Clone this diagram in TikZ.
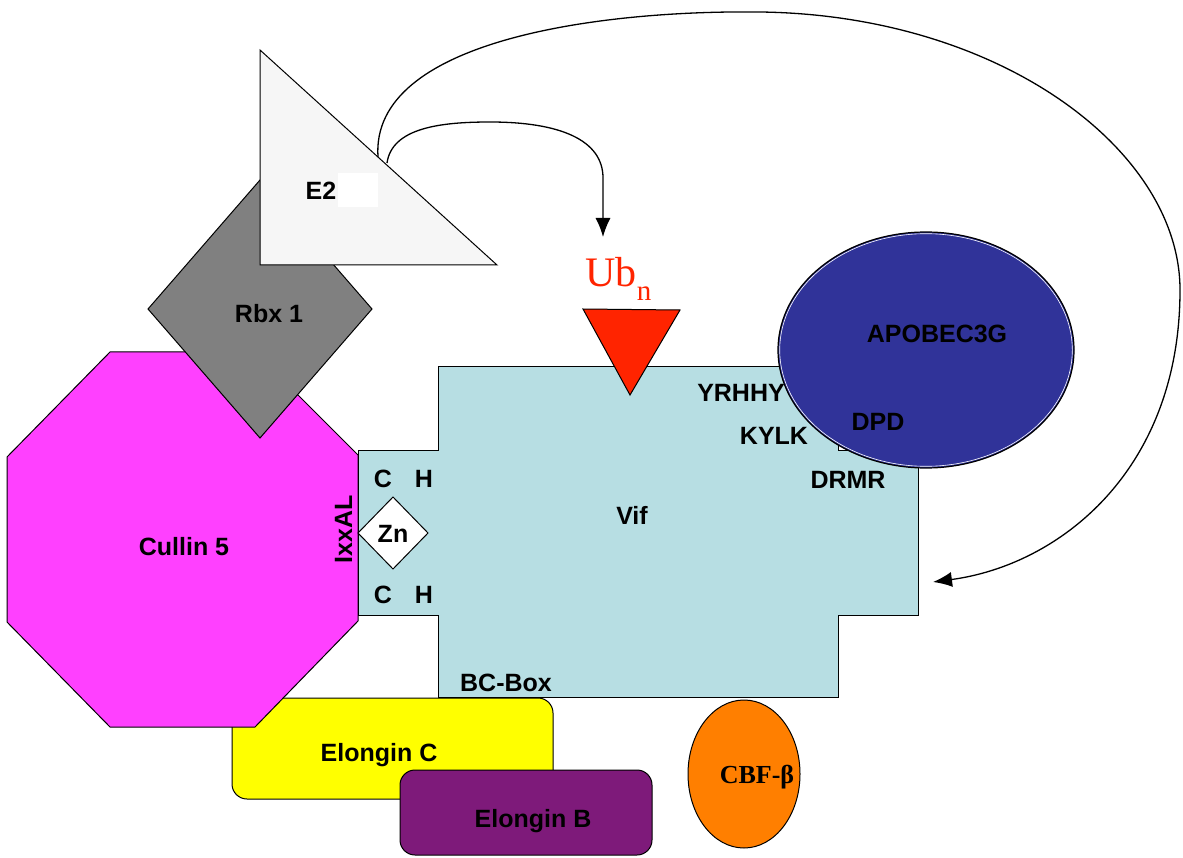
\documentclass[tikz,border=0pt]{standalone}
\usepackage{fontspec}
\setmainfont{Liberation Sans}
\newfontfamily\serifface{Liberation Serif}
\usetikzlibrary{arrows.meta}
\definecolor{vifblue}{HTML}{B7DEE3}
\definecolor{culmag}{HTML}{FF40FF}
\definecolor{rbxgray}{HTML}{808080}
\definecolor{etwogray}{HTML}{F6F6F6}
\definecolor{apoblue}{HTML}{303399}
\definecolor{ubred}{HTML}{FF2400}
\definecolor{elcyellow}{HTML}{FFFF00}
\definecolor{elbpurple}{HTML}{7E1A7A}
\definecolor{cbforange}{HTML}{FF7F00}

\begin{document}
\begin{tikzpicture}[x=1pt,y=-1pt,line width=1pt,
  lbl/.style={anchor=base,font=\fontsize{25}{30}\selectfont\bfseries},
  ubarrow/.style={line width=1.3pt,-{Latex[length=19pt,width=15pt]}}]
\tikzstyle{every node}+=[inner sep=0pt]
\useasboundingbox (0,0) rectangle (1183,858);
% elongins
\draw [black,fill=elcyellow,rounded corners=15pt] (232,698) rectangle (553,799);
\draw [black,fill=elbpurple,rounded corners=15pt] (400,770) rectangle (652,855);
% cullin, rbx, e2
\draw [black,fill=culmag] (110,352) -- (255,352) -- (358,455) -- (358,621) -- (255,727)
  -- (110,727) -- (7,622) -- (7,457) -- cycle;
\draw [black,fill=rbxgray] (260,180) -- (372,309) -- (260,438) -- (148,309) -- cycle;
\draw [black,fill=etwogray] (260,50) -- (497,265) -- (260,265) -- cycle;
% vif
\draw [black,fill=vifblue] (438,367) -- (838,367) -- (838,450) -- (918,450) -- (918,615)
  -- (838,615) -- (838,697) -- (438,697) -- (438,615) -- (358,615) -- (358,450)
  -- (438,450) -- cycle;
\draw [black,fill=white] (358,533) -- (393,497) -- (428,533) -- (393,569) -- cycle;
\draw [black,fill=ubred] (583,309) -- (680,310) -- (630,395) -- cycle;
% apobec3g
\draw [black,fill=apoblue,line width=1.2pt] (926,350) ellipse [x radius=148pt,y radius=118pt];
\draw [white,line width=0.6pt] (926,350) ellipse [x radius=146.3pt,y radius=116.3pt];
% cbf-beta
\draw [black,fill=cbforange] (744,774) ellipse [x radius=56pt,y radius=74pt];

% labels
\node [lbl] (cul) at (184,555) {Cullin 5};
\node [lbl] (rbx) at (269,323) {Rbx 1};
\node [lbl] (etwo) at (321,200) {E2};
\fill [white] (338,173) rectangle (378,207);
\node [lbl] (apo) at (937,343) {APOBEC3G};
\node [lbl] (yrhhy) at (741,402) {YRHHY};
\node [lbl] (kylk) at (774,444) {KYLK};
\node [lbl] (dpd) at (878,430) {DPD};
\node [lbl] (drmr) at (848,488) {DRMR};
\node [lbl] (cup) at (383,487) {C};
\node [lbl] (hup) at (424,487) {H};
\node [lbl] (cdown) at (383,603) {C};
\node [lbl] (hdown) at (424,603) {H};
\node [lbl] (zn) at (393,542) {Zn};
\node [lbl,rotate=90] (ixxal) at (352,529) {IxxAL};
\node [lbl] (vif) at (632,524) {Vif};
\node [lbl] (bcbox) at (506,691) {BC-Box};
\node [lbl] (elc) at (379,761) {Elongin C};
\node [lbl] (elb) at (533,827) {Elongin B};
\node [anchor=base,font=\serifface\fontsize{26}{30}\selectfont\bfseries] (cbf) at (757,783) {CBF-β};
\node [anchor=base west,text=ubred,font=\serifface\fontsize{42}{46}\selectfont] (ub) at (585,287)
  {Ub\raisebox{-14pt}{\fontsize{29}{31}\selectfont n}};

% ubiquitin transfer arrows
\coordinate (etwoa) at (387,163);
\coordinate (etwob) at (378,157);
\coordinate (ubin) at (603,237);
\coordinate (vifin) at (933,582);
\draw [ubarrow] (etwoa) .. controls (392,128) and (440,122) .. (490,122)
  .. controls (560,122) and (603,140) .. (603,178) -- (ubin);
\draw [ubarrow] (etwob) .. controls (370,40) and (600,10) .. (760,12)
  .. controls (1000,15) and (1180,150) .. (1180,290)
  .. controls (1180,470) and (1060,565) .. (vifin);
\end{tikzpicture}
\end{document}
